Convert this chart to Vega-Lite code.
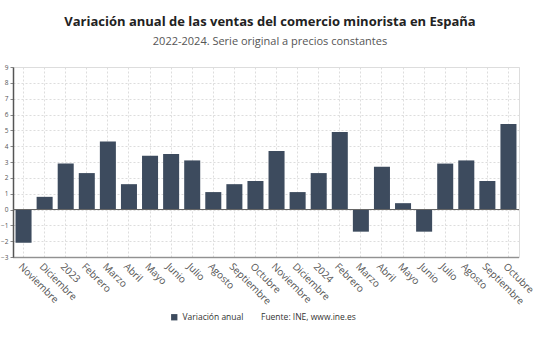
{
  "$schema": "https://vega.github.io/schema/vega-lite/v6.json",
  "width": 506,
  "height": 190,
  "autosize": {"type": "none"},
  "padding": {"left": 13, "top": 67, "right": 21, "bottom": 83},
  "background": "white",
  "config": {"axis": {"labelOverlap": false}},
  "title": {
    "text": "Variación anual de las ventas del comercio minorista en España",
    "subtitle": "2022-2024. Serie original a precios constantes",
    "font": "Open Sans", "fontSize": 13, "fontWeight": "bold", "color": "#222",
    "subtitleFont": "Open Sans", "subtitleFontSize": 11, "subtitleColor": "#555",
    "anchor": "middle", "offset": 17, "subtitlePadding": 7, "dx": 4
  },
  "data": {"values": [
    {"mes": "2022-11|Noviembre", "valor": -2.1, "serie": "Variación anual"},
    {"mes": "2022-12|Diciembre", "valor": 0.8, "serie": "Variación anual"},
    {"mes": "2023-01|2023", "valor": 2.9, "serie": "Variación anual"},
    {"mes": "2023-02|Febrero", "valor": 2.3, "serie": "Variación anual"},
    {"mes": "2023-03|Marzo", "valor": 4.3, "serie": "Variación anual"},
    {"mes": "2023-04|Abril", "valor": 1.6, "serie": "Variación anual"},
    {"mes": "2023-05|Mayo", "valor": 3.4, "serie": "Variación anual"},
    {"mes": "2023-06|Junio", "valor": 3.5, "serie": "Variación anual"},
    {"mes": "2023-07|Julio", "valor": 3.1, "serie": "Variación anual"},
    {"mes": "2023-08|Agosto", "valor": 1.1, "serie": "Variación anual"},
    {"mes": "2023-09|Septiembre", "valor": 1.6, "serie": "Variación anual"},
    {"mes": "2023-10|Octubre", "valor": 1.8, "serie": "Variación anual"},
    {"mes": "2023-11|Noviembre", "valor": 3.7, "serie": "Variación anual"},
    {"mes": "2023-12|Diciembre", "valor": 1.1, "serie": "Variación anual"},
    {"mes": "2024-01|2024", "valor": 2.3, "serie": "Variación anual"},
    {"mes": "2024-02|Febrero", "valor": 4.9, "serie": "Variación anual"},
    {"mes": "2024-03|Marzo", "valor": -1.4, "serie": "Variación anual"},
    {"mes": "2024-04|Abril", "valor": 2.7, "serie": "Variación anual"},
    {"mes": "2024-05|Mayo", "valor": 0.4, "serie": "Variación anual"},
    {"mes": "2024-06|Junio", "valor": -1.4, "serie": "Variación anual"},
    {"mes": "2024-07|Julio", "valor": 2.9, "serie": "Variación anual"},
    {"mes": "2024-08|Agosto", "valor": 3.1, "serie": "Variación anual"},
    {"mes": "2024-09|Septiembre", "valor": 1.8, "serie": "Variación anual"},
    {"mes": "2024-10|Octubre", "valor": 5.4, "serie": "Variación anual"}
  ]},
  "layer": [
    {
      "mark": {"type": "bar"},
      "encoding": {
        "x": {
          "field": "mes", "type": "ordinal", "sort": null,
          "scale": {"paddingInner": 0.24, "paddingOuter": 0.12},
          "axis": {
            "title": null, "labelExpr": "split(datum.value,'|')[1]",
            "labelAngle": 45, "labelFont": "Open Sans", "labelFontSize": 10,
            "labelColor": "#555", "ticks": false, "domainDash": [1, 1],
            "domainColor": "#444", "domainWidth": 1.5, "grid": true, "gridDash": [2, 2],
            "gridColor": "#ddd", "bandPosition": 0.5, "labelPadding": 4
          }
        },
        "y": {
          "field": "valor", "type": "quantitative",
          "scale": {"domain": [-3, 9], "nice": false},
          "axis": {
            "title": null, "values": [-3, -2, -1, 0, 1, 2, 3, 4, 5, 6, 7, 8, 9],
            "tickCount": 13,
            "labelFont": "Open Sans", "labelFontSize": 6.5, "labelColor": "#555",
            "domainColor": "#555", "domainWidth": 1.5, "tickSize": 3, "tickColor": "#888",
            "gridDash": [2, 2], "gridColor": "#ddd", "labelPadding": 2
          }
        },
        "color": {
          "field": "serie", "type": "nominal",
          "scale": {"range": ["#3d4b5e"]},
          "legend": {
            "orient": "none", "legendX": 157, "legendY": 246, "direction": "horizontal",
            "title": "Fuente: INE, www.ine.es", "titleOrient": "right",
            "symbolType": "square", "symbolSize": 40,
            "labelFont": "Open Sans", "labelFontSize": 8.5, "labelColor": "#333",
            "titleFont": "Open Sans", "titleFontSize": 8.5, "titleFontWeight": "normal",
            "titleColor": "#333", "titlePadding": 18
          }
        }
      }
    },
    {
      "mark": {"type": "rule", "color": "#666", "strokeWidth": 1.2},
      "encoding": {"y": {"datum": 0}}
    }
  ]
}
